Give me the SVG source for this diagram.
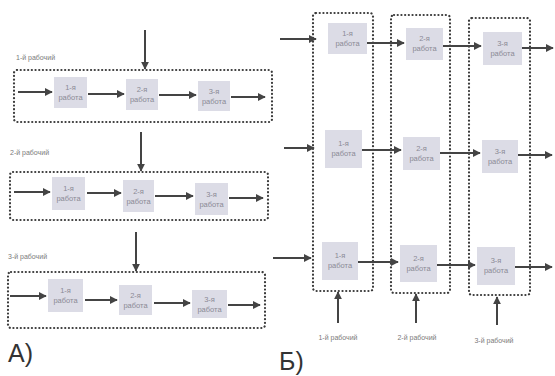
<svg xmlns="http://www.w3.org/2000/svg" width="555" height="376" viewBox="0 0 555 376">
<style>
.cont{fill:none;stroke:#3a3a3a;stroke-width:2.2;stroke-dasharray:0.1 3.6;stroke-linecap:round}
.job{fill:#dcdce6}
.jt{font-family:"Liberation Sans",sans-serif;font-size:7.5px;fill:#8a8a95;text-anchor:middle}
.lbl{font-family:"Liberation Sans",sans-serif;font-size:7px;fill:#7a7a7a}
.big{font-family:"Liberation Sans",sans-serif;font-size:25px;fill:#333}
.ar{stroke:#444;stroke-width:2;fill:none;marker-end:url(#ah)}
</style>
<defs>
<marker id="ah" viewBox="0 0 10 10" refX="9" refY="5" markerWidth="4" markerHeight="4" orient="auto" markerUnits="strokeWidth">
<path d="M0,0 L10,5 L0,10 z" fill="#444"/>
</marker>
</defs>
<rect width="555" height="376" fill="#fff"/>

<!-- Part A -->
<g id="a-worker1">
<text class="lbl" x="16" y="60">1-й рабочий</text>
<rect class="cont" x="14" y="70" width="258" height="52" rx="3"/>
</g>
<g id="a-worker2">
<text class="lbl" x="10" y="155">2-й рабочий</text>
<rect class="cont" x="10" y="172" width="258" height="48" rx="3"/>
</g>
<g id="a-worker3">
<text class="lbl" x="8" y="259">3-й рабочий</text>
<rect class="cont" x="8" y="272" width="257" height="56" rx="3"/>
</g>

<g id="a1-job1"><rect class="job" x="54" y="77" width="33" height="31"/><text class="jt" x="70.5" y="90">1-я</text><text class="jt" x="70.5" y="100">работа</text></g>
<g id="a1-job2"><rect class="job" x="126" y="79" width="32" height="31"/><text class="jt" x="142" y="92">2-я</text><text class="jt" x="142" y="102">работа</text></g>
<g id="a1-job3"><rect class="job" x="198" y="81" width="32" height="30"/><text class="jt" x="214" y="94">3-я</text><text class="jt" x="214" y="104">работа</text></g>

<g id="a2-job1"><rect class="job" x="52" y="177" width="33" height="33"/><text class="jt" x="68.5" y="191">1-я</text><text class="jt" x="68.5" y="201">работа</text></g>
<g id="a2-job2"><rect class="job" x="123" y="180" width="31" height="32"/><text class="jt" x="138.5" y="194">2-я</text><text class="jt" x="138.5" y="204">работа</text></g>
<g id="a2-job3"><rect class="job" x="195" y="183" width="33" height="32"/><text class="jt" x="211.5" y="197">3-я</text><text class="jt" x="211.5" y="207">работа</text></g>

<g id="a3-job1"><rect class="job" x="48" y="279" width="35" height="33"/><text class="jt" x="65.5" y="293">1-я</text><text class="jt" x="65.5" y="303">работа</text></g>
<g id="a3-job2"><rect class="job" x="119" y="285" width="33" height="30"/><text class="jt" x="135.5" y="298">2-я</text><text class="jt" x="135.5" y="308">работа</text></g>
<g id="a3-job3"><rect class="job" x="192" y="290" width="35" height="28"/><text class="jt" x="209.5" y="302">3-я</text><text class="jt" x="209.5" y="312">работа</text></g>

<text class="big" x="8" y="362">А)</text>

<!-- Part B -->
<g id="b-worker1">
<rect class="cont" x="313" y="13" width="60" height="278" rx="3"/>
<text class="lbl" x="338" y="340" text-anchor="middle">1-й рабочий</text>
</g>
<g id="b-worker2">
<rect class="cont" x="391" y="15" width="59" height="278" rx="3"/>
<text class="lbl" x="417" y="340" text-anchor="middle">2-й рабочий</text>
</g>
<g id="b-worker3">
<rect class="cont" x="469" y="18" width="61" height="277" rx="3"/>
<text class="lbl" x="494" y="343" text-anchor="middle">3-й рабочий</text>
</g>

<g id="b1-job1"><rect class="job" x="328" y="23" width="39" height="31"/><text class="jt" x="347.5" y="36">1-я</text><text class="jt" x="347.5" y="46">работа</text></g>
<g id="b1-job2"><rect class="job" x="406" y="28" width="37" height="32"/><text class="jt" x="424.5" y="41">2-я</text><text class="jt" x="424.5" y="51">работа</text></g>
<g id="b1-job3"><rect class="job" x="483" y="32" width="39" height="33"/><text class="jt" x="502.5" y="46">3-я</text><text class="jt" x="502.5" y="56">работа</text></g>

<g id="b2-job1"><rect class="job" x="325" y="130" width="37" height="38"/><text class="jt" x="343.5" y="146">1-я</text><text class="jt" x="343.5" y="156">работа</text></g>
<g id="b2-job2"><rect class="job" x="403" y="137" width="37" height="33"/><text class="jt" x="421.5" y="151">2-я</text><text class="jt" x="421.5" y="161">работа</text></g>
<g id="b2-job3"><rect class="job" x="482" y="140" width="36" height="33"/><text class="jt" x="500" y="154">3-я</text><text class="jt" x="500" y="164">работа</text></g>

<g id="b3-job1"><rect class="job" x="322" y="242" width="36" height="38"/><text class="jt" x="340" y="258">1-я</text><text class="jt" x="340" y="268">работа</text></g>
<g id="b3-job2"><rect class="job" x="400" y="245" width="37" height="37"/><text class="jt" x="418.5" y="261">2-я</text><text class="jt" x="418.5" y="271">работа</text></g>
<g id="b3-job3"><rect class="job" x="477" y="247" width="38" height="38"/><text class="jt" x="496" y="263">3-я</text><text class="jt" x="496" y="273">работа</text></g>

<text class="big" x="279" y="370">Б)</text>

<g id="connectors">
<!-- A row 1 -->
<line class="ar" x1="145" y1="30" x2="145" y2="69"/>
<line class="ar" x1="18" y1="92" x2="52" y2="92"/>
<line class="ar" x1="88" y1="94" x2="124" y2="94"/>
<line class="ar" x1="159" y1="95" x2="196" y2="95"/>
<line class="ar" x1="231" y1="97" x2="265" y2="97"/>
<!-- A row 2 -->
<line class="ar" x1="141" y1="132" x2="141" y2="171"/>
<line class="ar" x1="14" y1="192" x2="50" y2="192"/>
<line class="ar" x1="87" y1="193" x2="121" y2="193"/>
<line class="ar" x1="155" y1="196" x2="193" y2="196"/>
<line class="ar" x1="229" y1="198" x2="263" y2="198"/>
<!-- A row 3 -->
<line class="ar" x1="136" y1="232" x2="136" y2="271"/>
<line class="ar" x1="10" y1="296" x2="46" y2="296"/>
<line class="ar" x1="85" y1="300" x2="117" y2="300"/>
<line class="ar" x1="154" y1="303" x2="190" y2="303"/>
<line class="ar" x1="228" y1="305" x2="260" y2="305"/>
<!-- B row 1 -->
<line class="ar" x1="280" y1="39" x2="316" y2="39"/>
<line class="ar" x1="367" y1="43" x2="404" y2="43"/>
<line class="ar" x1="443" y1="46" x2="481" y2="46"/>
<line class="ar" x1="522" y1="48" x2="553" y2="48"/>
<!-- B row 2 -->
<line class="ar" x1="284" y1="148" x2="314" y2="148"/>
<line class="ar" x1="362" y1="150" x2="401" y2="150"/>
<line class="ar" x1="440" y1="153" x2="480" y2="153"/>
<line class="ar" x1="518" y1="155" x2="552" y2="155"/>
<!-- B row 3 -->
<line class="ar" x1="273" y1="258" x2="311" y2="258"/>
<line class="ar" x1="358" y1="262" x2="398" y2="262"/>
<line class="ar" x1="437" y1="265" x2="475" y2="265"/>
<line class="ar" x1="515" y1="267" x2="552" y2="267"/>
<!-- B workers up -->
<line class="ar" x1="338" y1="323" x2="338" y2="292"/>
<line class="ar" x1="416" y1="323" x2="416" y2="294"/>
<line class="ar" x1="497" y1="325" x2="497" y2="297"/>
</g>
</svg>
